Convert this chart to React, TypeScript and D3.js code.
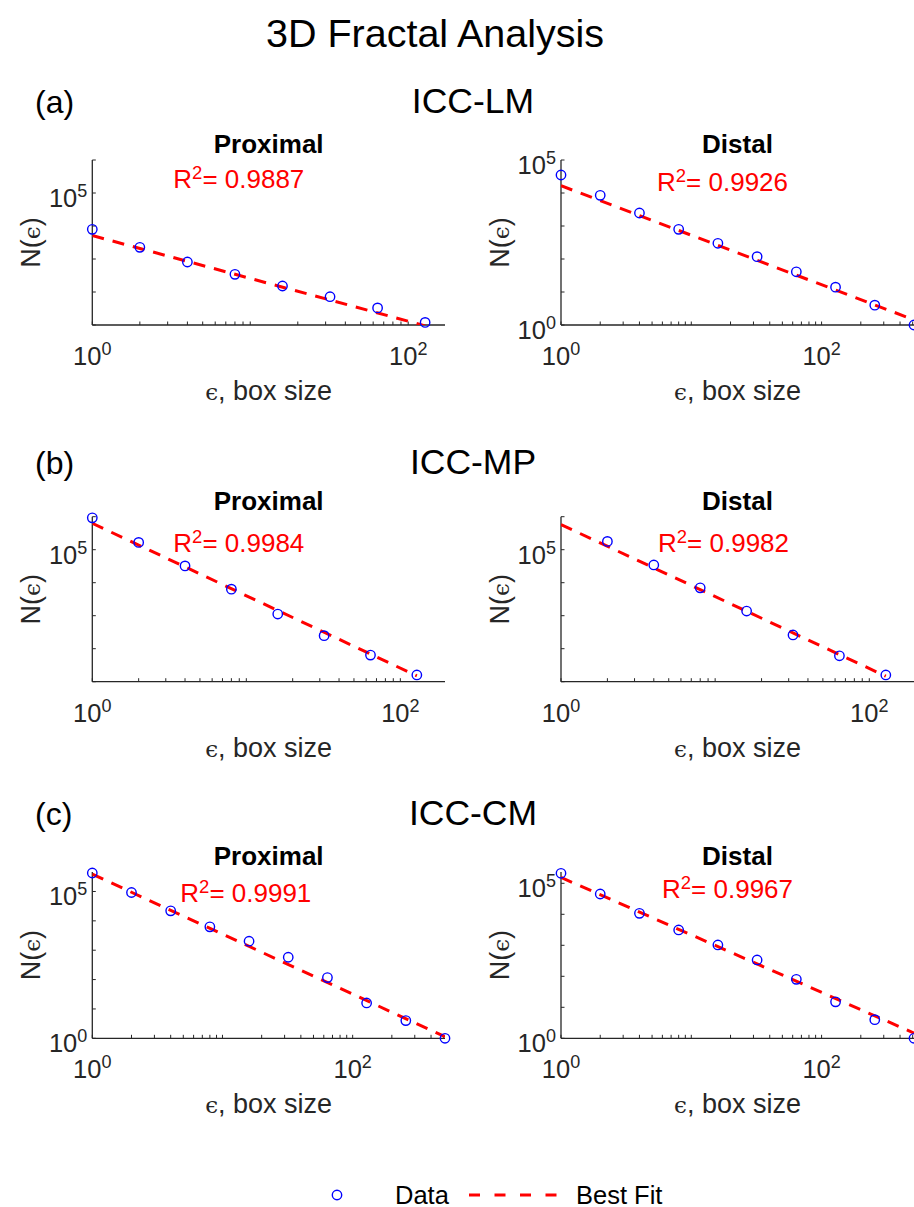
import React from 'react';
import * as d3 from 'd3';

// ---------- data ----------
const boxSizesA = [1, 2, 4, 8, 16, 32, 64, 128];
const boxSizesB = [1, 2, 4, 8, 16, 32, 64, 128, 256, 512];
const boxSizesC = [2, 4, 8, 16, 32, 64, 128];

const lmProximalN = [7925, 2259, 811, 343, 152, 72, 33, 12];
const lmDistalN = [35075, 8492, 2477, 792, 299, 118, 41, 14, 4, 1];
const mpProximalN = [922571, 166341, 32211, 6368, 1122, 249, 64, 16];
const mpDistalN = [178238, 34514, 6982, 1384, 261, 61, 16];
const cmProximalN = [426580, 92470, 21928, 6237, 2028, 577, 117, 16, 4, 1];
const cmDistalN = [210378, 45290, 10765, 3126, 1026, 337, 80, 15, 4, 1];

// best fit: log10 N = intercept + slope * log10(eps)
const fitIntercepts = [3.71, 4.22, 5.80, 5.76, 5.59, 5.19];
const fitSlopes = [-1.298, -1.5, -2.194, -2.18, -2.043, -1.854];
const rSquared = ['0.9887', '0.9926', '0.9984', '0.9982', '0.9991', '0.9967'];

const groupLetters = ['(a)', '(b)', '(c)'];
const groupNames = ['ICC-LM', 'ICC-MP', 'ICC-CM'];
const regionNames = ['Proximal', 'Distal'];

const xLimits: [number, number][] = [[1, 171], [1, 512], [1, 195], [1, 195], [1, 512], [1, 512]];
const yLimits: [number, number][] = [[10, 1e6], [1, 1e5], [10, 1e6], [10, 1e6], [1, 461000], [1, 231700]];

const xTickLabelValues = [1, 100];
const yTickLabelValues = [1, 1e5];

const panelX = [boxSizesA, boxSizesB, boxSizesA, boxSizesC, boxSizesB, boxSizesB];
const panelY = [lmProximalN, lmDistalN, mpProximalN, mpDistalN, cmProximalN, cmDistalN];

// ---------- layout ----------
const W = 914;
const H = 1207;
const FONT = "'Liberation Sans', Arial, Helvetica, sans-serif";
const colX = [[92.3, 445], [561, 914]];
const rowY = [[160, 325], [516.7, 681.7], [872, 1038.3]];
const headerBaseline = [113, 474, 825];
const r2Offset = [[81, 28], [96, 31], [81, 35], [97, 35], [88, 30], [101, 26]];
const AXIS = '#262626';
const BLUE = '#0000FF';
const RED = '#FF0000';

function logTicks(lo: number, hi: number, minor: boolean) {
  const out: number[] = [];
  const d0 = Math.floor(Math.log10(lo)) - 1;
  const d1 = Math.ceil(Math.log10(hi)) + 1;
  for (let d = d0; d <= d1; d++) {
    const ks = minor ? [1, 2, 3, 4, 5, 6, 7, 8, 9] : [1];
    for (const k of ks) {
      const v = k * Math.pow(10, d);
      if (v >= lo * (1 - 1e-9) && v <= hi * (1 + 1e-9)) out.push(v);
    }
  }
  return out;
}

function Pow10({ x, y, exp, anchor }: { x: number; y: number; exp: number; anchor: string }) {
  return (
    <text x={x} y={y} textAnchor={anchor} fontSize={25.5} fill={AXIS} fontFamily={FONT}>
      <tspan>10</tspan>
      <tspan dy={-10} fontSize={18}>{exp}</tspan>
    </text>
  );
}

function Panel({ idx }: { idx: number }) {
  const row = Math.floor(idx / 2);
  const col = idx % 2;
  const [x0, x1] = colX[col];
  const [y0, y1] = rowY[row];
  const xs = d3.scaleLog().domain(xLimits[idx]).range([x0, x1]);
  const ys = d3.scaleLog().domain(yLimits[idx]).range([y1, y0]);
  const ex = panelX[idx];
  const ny = panelY[idx];
  const lastX = ex[ex.length - 1];
  const fitPts: [number, number][] = [1, lastX].map((e) => [e, Math.pow(10, fitIntercepts[idx] + fitSlopes[idx] * Math.log10(e))]);
  const line = d3.line<[number, number]>().x((d) => xs(d[0])).y((d) => ys(d[1]));
  const clipId = `clip${idx}`;
  const tl = 3.5;
  const xt = logTicks(xLimits[idx][0], xLimits[idx][1], true);
  const yt = logTicks(yLimits[idx][0], yLimits[idx][1], false);
  const cx = (x0 + x1) / 2;
  const cy = (y0 + y1) / 2;
  return (
    <g>
      <defs>
        <clipPath id={clipId}>
          <rect x={x0} y={y0} width={x1 - x0} height={y1 - y0} />
        </clipPath>
      </defs>
      {/* axes */}
      <line x1={x0} y1={y1} x2={x1} y2={y1} stroke={AXIS} strokeWidth={1.3} />
      <line x1={x0} y1={y0} x2={x0} y2={y1} stroke={AXIS} strokeWidth={1.3} />
      {xt.map((v, i) => (
        <line key={'xt' + i} x1={xs(v)} x2={xs(v)} y1={y1} y2={y1 - tl} stroke={AXIS} strokeWidth={1} />
      ))}
      {yt.map((v, i) => (
        <line key={'yt' + i} x1={x0} x2={x0 + tl} y1={ys(v)} y2={ys(v)} stroke={AXIS} strokeWidth={1} />
      ))}
      {xTickLabelValues.filter((v) => v >= xLimits[idx][0] && v <= xLimits[idx][1]).map((v, i) => (
        <Pow10 key={'xl' + i} x={xs(v)} y={y1 + 40} exp={Math.round(Math.log10(v))} anchor="middle" />
      ))}
      {yTickLabelValues.filter((v) => v >= yLimits[idx][0] * 0.999 && v <= yLimits[idx][1] * 1.001).map((v, i) => (
        <Pow10 key={'yl' + i} x={x0 - 5} y={ys(v) + 14} exp={Math.round(Math.log10(v))} anchor="end" />
      ))}
      {/* axis labels */}
      <text x={cx} y={y1 + 75} textAnchor="middle" fontSize={27} fill={AXIS} fontFamily={FONT}>
        <tspan fontFamily="'DejaVu Serif', serif" fontSize={23}>ϵ</tspan>
        <tspan>, box size</tspan>
      </text>
      <text transform={`translate(${x0 - 52},${cy}) rotate(-90)`} textAnchor="middle" fontSize={27} fill={AXIS} fontFamily={FONT}>
        <tspan>N(</tspan>
        <tspan fontFamily="'DejaVu Serif', serif" fontSize={23}>ϵ</tspan>
        <tspan>)</tspan>
      </text>
      {/* title */}
      <text x={cx} y={y0 - 7} textAnchor="middle" fontSize={26} fontWeight="bold" fill="#000" fontFamily={FONT}>
        {regionNames[col]}
      </text>
      {/* fit */}
      <path d={line(fitPts) || ''} fill="none" stroke={RED} strokeWidth={3} strokeDasharray="12 9" clipPath={`url(#${clipId})`} />
      {/* data */}
      {ex.map((e, i) => (
        <circle key={'p' + i} cx={xs(e)} cy={ys(ny[i])} r={4.7} fill="none" stroke={BLUE} strokeWidth={1.4} />
      ))}
      {/* R^2 */}
      <text x={x0 + r2Offset[idx][0]} y={y0 + r2Offset[idx][1]} fontSize={26} fill={RED} fontFamily={FONT}>
        <tspan>R</tspan>
        <tspan dy={-9} fontSize={18.5}>2</tspan>
        <tspan dy={9}>= {rSquared[idx]}</tspan>
      </text>
    </g>
  );
}

export default function App() {
  return (
    <svg width={W} height={H} style={{ position: 'absolute', left: 0, top: 0, background: '#fff' }} fontFamily={FONT}>
      <rect x={0} y={0} width={W} height={H} fill="#fff" />
      <text x={435} y={47} textAnchor="middle" fontSize={39.5} fill="#000">3D Fractal Analysis</text>
      {groupNames.map((g, r) => (
        <g key={g}>
          <text x={35} y={headerBaseline[r]} fontSize={32} fill="#000">{groupLetters[r]}</text>
          <text x={473} y={headerBaseline[r]} textAnchor="middle" fontSize={35.5} fill="#000">{g}</text>
        </g>
      ))}
      {[0, 1, 2, 3, 4, 5].map((i) => (
        <Panel key={i} idx={i} />
      ))}
      {/* legend */}
      <circle cx={337} cy={1195} r={4.7} fill="none" stroke={BLUE} strokeWidth={1.4} />
      <text x={395} y={1203.5} fontSize={25.5} fill="#000">Data</text>
      <line x1={469} x2={557} y1={1195} y2={1195} stroke={RED} strokeWidth={3} strokeDasharray="11 14.5" />
      <text x={576} y={1203.5} fontSize={25.5} fill="#000">Best Fit</text>
    </svg>
  );
}
